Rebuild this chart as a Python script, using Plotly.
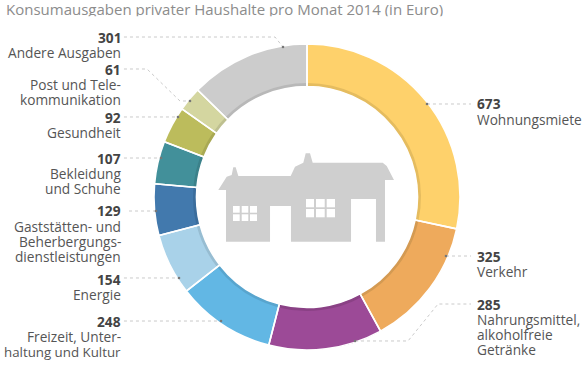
import plotly.graph_objects as go

W, H = 587, 365
CX, CY, R = 307, 197, 153

values = [673, 325, 285, 248, 154, 129, 107, 92, 61, 301]
names = ["Wohnungsmiete", "Verkehr", "Nahrungsmittel, alkoholfreie Getränke",
         "Freizeit, Unterhaltung und Kultur", "Energie",
         "Gaststätten- und Beherbergungsdienstleistungen", "Bekleidung und Schuhe",
         "Gesundheit", "Post und Telekommunikation", "Andere Ausgaben"]
colors = ["#FED16B", "#EEAA5C", "#9C4A97", "#62B7E4", "#A9D2E9",
          "#4279AD", "#42909A", "#BCBC5C", "#D4D6A0", "#CCCCCC"]
shades = ["#E5BC5F", "#D49A52", "#8A4185", "#58A5CE", "#97BDD2",
          "#3B6D9C", "#3B818A", "#A9A953", "#BEC090", "#B8B8B8"]

title = "Konsumausgaben privater Haushalte pro Monat 2014 (in Euro)"

left_labels = [
    ("301", 37, ["Andere Ausgaben"]),
    ("61", 69, ["Post und Tele-", "kommunikation"]),
    ("92", 117, ["Gesundheit"]),
    ("107", 158, ["Bekleidung", "und Schuhe"]),
    ("129", 211, ["Gaststätten- und", "Beherbergungs-", "dienstleistungen"]),
    ("154", 279, ["Energie"]),
    ("248", 321, ["Freizeit, Unter-", "haltung und Kultur"]),
]
right_labels = [
    ("673", 104, ["Wohnungsmiete"]),
    ("325", 256, ["Verkehr"]),
    ("285", 304, ["Nahrungsmittel,", "alkoholfreie", "Getränke"]),
]

leaders = [
    [(124, 37), (275, 37), (283, 47)],
    [(124, 69), (147, 69), (180, 101), (190, 101)],
    [(124, 117), (178, 117)],
    [(124, 158), (161, 158)],
    [(129, 211), (156, 211)],
    [(124, 278), (179, 278)],
    [(124, 321), (221, 321)],
    [(427, 104), (471, 104)],
    [(446, 256), (471, 256)],
    [(355, 341), (408, 341), (438, 304), (471, 304)],
]

house = [(218.3, 190), (226.7, 176.7), (231.7, 175), (233.3, 167.3), (235.7, 167.3), (238.3, 176),
         (290.7, 176), (295, 166.7), (303.3, 162.7), (305.7, 153.3), (310, 153.3), (312.7, 162.7),
         (382.7, 162.7), (386.7, 166), (394, 180), (385, 180), (385, 241.7), (376, 241.7),
         (376, 199), (351, 199), (351, 241.7), (291, 241.7), (291, 206), (270, 206),
         (270, 241.7), (226, 241.7), (226, 190)]
panes = [(233, 239.7, 206, 212.7), (241.7, 248.3, 206, 212.7), (250, 257, 206, 212.7),
         (233, 239.7, 214.3, 221), (241.7, 248.3, 214.3, 221), (250, 257, 214.3, 221),
         (306, 314, 199, 207.3), (316, 324.7, 199, 207.3), (326.7, 335, 199, 207.3),
         (306, 314, 209, 217.3), (316, 324.7, 209, 217.3), (326.7, 335, 209, 217.3)]


def px(x):
    return x / W


def py(y):
    return 1 - y / H


FONT = "Open Sans"
domain = dict(x=[px(CX - R), px(CX + R)], y=[py(CY + R), py(CY - R)])


def ring(fill, hole, line_width):
    return go.Pie(values=values, labels=names, sort=False, direction="clockwise", rotation=0,
                  hole=hole / R, domain=domain, textinfo="none", showlegend=False,
                  marker=dict(colors=fill, line=dict(color="white", width=line_width)))


fig = go.Figure()
fig.add_trace(ring(shades, 110.5, 0))
fig.add_trace(ring(colors, 114, 0))
fig.add_trace(ring(["rgba(0,0,0,0)"] * len(values), 110.5, 1.6))

shapes = []
annotations = []


def text(x, y, s, anchor, size=13.7, color="#555555", height=None):
    annotations.append(dict(x=px(x), y=py(y), xref="paper", yref="paper", text=s, showarrow=False,
                            xanchor=anchor, yanchor="middle", align=anchor, height=height,
                            borderpad=0,
                            font=dict(family=FONT, size=size, color=color)))


text(5, 8, title, "left", size=15, color="#8C8C8C", height=15.2)

LINE_H = 15.3
for value, y, lines in left_labels:
    text(121.5, y, "<b>%s</b>" % value, "right", color="#444444")
    for i, line in enumerate(lines):
        text(121.5, y + LINE_H * (i + 1), line, "right",
             size=13.3 if len(line) > 16 else 13.7)
for value, y, lines in right_labels:
    text(475.5, y, "<b>%s</b>" % value, "left", color="#444444")
    for i, line in enumerate(lines):
        text(475.5, y + LINE_H * (i + 1), line, "left")

for pts in leaders:
    path = "M" + " L".join("%.4f,%.4f" % (px(x), py(y)) for x, y in pts)
    shapes.append(dict(type="path", path=path, xref="paper", yref="paper",
                       line=dict(color="#BDBDBD", width=0.8, dash="dot")))
    ex, ey = pts[0] if pts[0][0] > 300 else pts[-1]
    shapes.append(dict(type="circle", xref="paper", yref="paper",
                       x0=px(ex - 1.3), x1=px(ex + 1.3), y0=py(ey + 1.3), y1=py(ey - 1.3),
                       fillcolor="#777777", line=dict(width=0)))

shapes.append(dict(type="path", xref="paper", yref="paper",
                   path="M" + " L".join("%.4f,%.4f" % (px(x), py(y)) for x, y in house) + " Z",
                   fillcolor="#CFCFCF", line=dict(width=0)))
for x0, x1, y0, y1 in panes:
    shapes.append(dict(type="rect", xref="paper", yref="paper", x0=px(x0), x1=px(x1),
                       y0=py(y1), y1=py(y0), fillcolor="white", line=dict(width=0)))

fig.update_layout(width=W, height=H, margin=dict(l=0, r=0, t=0, b=0), autosize=False,
                  paper_bgcolor="white", plot_bgcolor="white", shapes=shapes,
                  annotations=annotations, showlegend=False)
fig.write_html("out.html", config={"displayModeBar": False},
               post_script="document.body.style.margin='0';document.body.style.overflow='hidden';")
